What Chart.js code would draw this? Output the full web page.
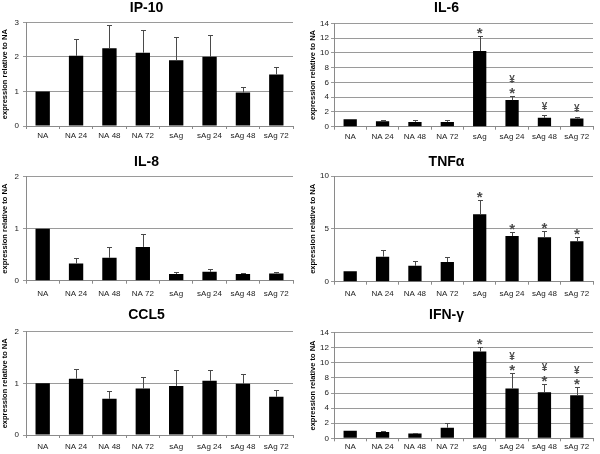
<!DOCTYPE html>
<html><head><meta charset="utf-8">
<script src="https://cdn.jsdelivr.net/npm/chart.js@4.4.0/dist/chart.umd.min.js"></script>
<style>
html,body{margin:0;padding:0;background:#fff;width:600px;height:454px;overflow:hidden;}
.p{position:absolute;}
canvas{display:block;}
</style></head><body>
<div class="p" style="left:0;top:0"><canvas id="c1" width="300" height="150" style="width:300px;height:150px"></canvas></div>
<div class="p" style="left:300px;top:0"><canvas id="c2" width="300" height="150" style="width:300px;height:150px"></canvas></div>
<div class="p" style="left:0;top:150px"><canvas id="c3" width="300" height="150" style="width:300px;height:150px"></canvas></div>
<div class="p" style="left:300px;top:150px"><canvas id="c4" width="300" height="150" style="width:300px;height:150px"></canvas></div>
<div class="p" style="left:0;top:300px"><canvas id="c5" width="300" height="154" style="width:300px;height:154px"></canvas></div>
<div class="p" style="left:300px;top:300px"><canvas id="c6" width="300" height="154" style="width:300px;height:154px"></canvas></div>
<script>
// ---- data ----
const categories = ['NA', 'NA 24', 'NA 48', 'NA 72', 'sAg', 'sAg 24', 'sAg 48', 'sAg 72'];
const yAxisLabel = 'expression relative to NA';

const ip10Values = [1.0, 2.03, 2.25, 2.12, 1.90, 2.0, 0.97, 1.49];
const ip10Errors = [1.0, 2.52, 2.92, 2.77, 2.57, 2.62, 1.12, 1.71];
const ip10Marks  = ['', '', '', '', '', '', '', ''];

const il6Values = [1.0, 0.75, 0.65, 0.65, 10.25, 3.6, 1.2, 1.1];
const il6Errors = [1.0, 0.85, 0.9, 0.9, 12.3, 4.1, 1.65, 1.35];
const il6Marks  = ['', '', '', '', '*', '*¥', '¥', '¥'];

const il8Values = [1.0, 0.33, 0.44, 0.65, 0.13, 0.17, 0.13, 0.14];
const il8Errors = [1.0, 0.44, 0.64, 0.89, 0.16, 0.23, 0.155, 0.165];
const il8Marks  = ['', '', '', '', '', '', '', ''];

const tnfValues = [1.0, 2.37, 1.5, 1.86, 6.37, 4.32, 4.2, 3.82];
const tnfErrors = [1.0, 3.03, 1.92, 2.3, 7.7, 4.67, 4.8, 4.2];
const tnfMarks  = ['', '', '', '', '*', '*', '*', '*'];

const ccl5Values = [1.0, 1.09, 0.70, 0.90, 0.95, 1.05, 0.99, 0.74];
const ccl5Errors = [1.0, 1.27, 0.86, 1.12, 1.26, 1.25, 1.19, 0.88];
const ccl5Marks  = ['', '', '', '', '', '', '', ''];

const ifnValues = [1.0, 0.85, 0.65, 1.4, 11.5, 6.6, 6.1, 5.7];
const ifnErrors = [1.0, 1.0, 0.75, 2.0, 12.1, 8.7, 7.15, 6.75];
const ifnMarks  = ['', '', '', '', '*', '*¥', '*¥', '*¥'];

const FONT = '"Liberation Sans", Arial, Helvetica, sans-serif';

const errPlugin = {
  id: 'errBars',
  afterDatasetsDraw(chart, args, opts) {
    const ctx = chart.ctx;
    const y = chart.scales.y;
    const meta = chart.getDatasetMeta(0);
    const vals = chart.data.datasets[0].data;
    ctx.save();
    meta.data.forEach((bar, i) => {
      const e = opts.errors[i];
      const x = Math.round(bar.x) + 0.5;
      let top = bar.y;
      if (e != null && e > vals[i]) {
        const yt = Math.round(y.getPixelForValue(e)) + 0.5;
        ctx.strokeStyle = '#4a4a4a';
        ctx.lineWidth = 1;
        ctx.beginPath();
        ctx.moveTo(x, bar.y);
        ctx.lineTo(x, yt);
        ctx.moveTo(x - 2.5, yt);
        ctx.lineTo(x + 2.5, yt);
        ctx.stroke();
        top = yt;
      }
      const m = opts.marks[i] || '';
      ctx.fillStyle = '#4d4d4d';
      ctx.textAlign = 'center';
      ctx.textBaseline = 'middle';
      let cy = top;
      for (let k = 0; k < m.length; k++) {
        const ch = m[k];
        if (ch === '*') {
          cy -= (k === 0 ? 6.5 : 9);
          ctx.font = 'bold 15px ' + FONT;
          ctx.fillText(ch, bar.x, cy + 3.5);
        } else {
          cy -= (k === 0 ? 8 : 9.5);
          ctx.font = 'bold 10px ' + FONT;
          ctx.fillText(ch, bar.x, cy);
        }
      }
    });
    ctx.restore();
  }
};

function makePanel(id, title, values, errors, marks, p) {
  return new Chart(document.getElementById(id), {
    type: 'bar',
    data: {
      labels: categories,
      datasets: [{
        data: values,
        backgroundColor: '#000',
        borderWidth: 0,
        categoryPercentage: 1.0,
        barPercentage: p.bp
      }]
    },
    plugins: [errPlugin],
    options: {
      responsive: false,
      animation: false,
      devicePixelRatio: 1,
      layout: { padding: { left: 0, right: 7, top: 0, bottom: 0 } },
      plugins: {
        legend: { display: false },
        tooltip: { enabled: false },
        title: {
          display: true, text: title, color: '#000',
          font: { family: FONT, size: 14, weight: 'bold', lineHeight: 1.2 },
          padding: { top: p.tp, bottom: p.tb }
        },
        errBars: { errors: errors, marks: marks }
      },
      scales: {
        x: {
          grid: { display: true, offset: true, drawOnChartArea: false, drawTicks: true, tickLength: 3, color: '#8a8a8a' },
          border: { color: '#8a8a8a' },
          ticks: { color: '#222', font: { family: FONT, size: 8 }, padding: p.xp, maxRotation: 0, autoSkip: false },
          afterFit(s) { s.height = p.xh; }
        },
        y: {
          min: 0, max: p.max,
          ticks: { stepSize: p.step, color: '#222', font: { family: FONT, size: 8 }, padding: p.yp },
          grid: { color: '#9a9a9a', tickLength: 3 },
          border: { color: '#8a8a8a' },
          title: {
            display: true, text: yAxisLabel, color: '#000',
            font: { family: FONT, size: 7.5, weight: 'bold', lineHeight: 1.2 },
            padding: { top: p.ytp, bottom: 0 }
          },
          afterFit(s) { s.width = p.yw; }
        }
      }
    }
  });
}

makePanel('c1', 'IP-10', ip10Values, ip10Errors, ip10Marks,
  { max: 3, step: 1, tp: 0, tb: 5.5, xh: 24, xp: 2.2, yw: 26, yp: 4, ytp: 0, bp: 0.43 });
makePanel('c2', 'IL-6', il6Values, il6Errors, il6Marks,
  { max: 14, step: 2, tp: 0, tb: 6.5, xh: 23.3, xp: 2.2, yw: 34, yp: 2, ytp: 8.5, bp: 0.41 });
makePanel('c3', 'IL-8', il8Values, il8Errors, il8Marks,
  { max: 2, step: 1, tp: 3.3, tb: 6.6, xh: 19.3, xp: 5.5, yw: 26, yp: 4, ytp: 0, bp: 0.43 });
makePanel('c4', 'TNFα', tnfValues, tnfErrors, tnfMarks,
  { max: 10, step: 5, tp: 3.3, tb: 5.9, xh: 18.3, xp: 4.5, yw: 34, yp: 2, ytp: 8.5, bp: 0.41 });
makePanel('c5', 'CCL5', ccl5Values, ccl5Errors, ccl5Marks,
  { max: 2, step: 1, tp: 6.6, tb: 8.3, xh: 19, xp: 3.9, yw: 26, yp: 4, ytp: 0, bp: 0.43 });
makePanel('c6', 'IFN-γ', ifnValues, ifnErrors, ifnMarks,
  { max: 14, step: 2, tp: 6.6, tb: 9.3, xh: 15.7, xp: 0.5, yw: 34, yp: 2, ytp: 8.5, bp: 0.41 });
</script>
</body></html>
